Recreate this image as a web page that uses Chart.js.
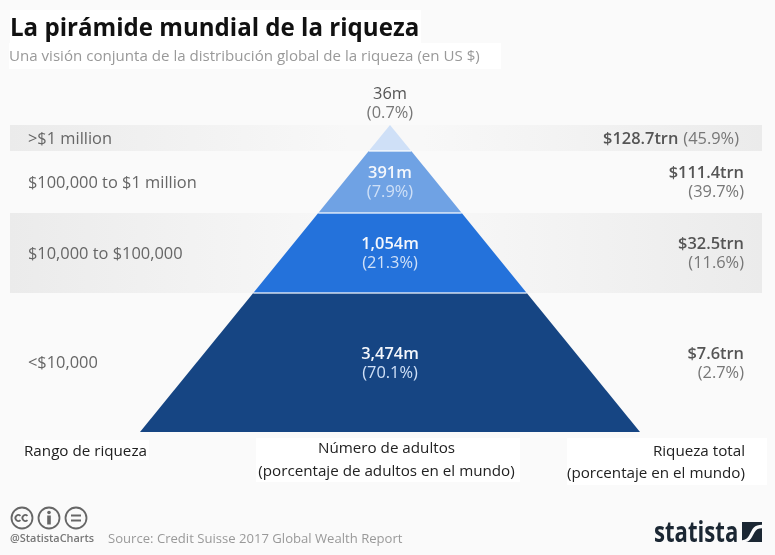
<!DOCTYPE html>
<html lang="es"><head><meta charset="utf-8">
<script src="https://cdn.jsdelivr.net/npm/chart.js@4"></script>
<style>
html,body{margin:0;padding:0;background:#fafafa;width:775px;height:555px;overflow:hidden;font-family:"Open Sans",sans-serif}
#c{position:absolute;left:0;top:0;width:775px;height:555px}
.t{position:absolute;white-space:nowrap;background:#fff}
.n{position:absolute;white-space:nowrap}
</style></head><body>
<canvas id="c" width="775" height="555"></canvas>
<div class="t" style="left:10px;top:10px;width:411px;height:33px"></div>
<div class="t" style="left:9px;top:43px;width:492px;height:26px"></div>
<div class="n" style="left:10px;top:9px;font-size:24.1px;font-weight:700;color:#111;line-height:36px">La pirámide mundial de la riqueza</div>
<div class="n" style="left:9px;top:44px;font-size:15.1px;color:#999;line-height:22px">Una visión conjunta de la distribución global de la riqueza (en US $)</div>

<div class="t" style="left:24px;top:440px;width:125px;height:20px"></div>
<div class="t" style="left:256px;top:438px;width:264px;height:44px"></div>
<div class="t" style="left:567px;top:438px;width:200px;height:47px"></div>
<div class="n" style="left:24px;top:440px;font-size:15.2px;color:#222;line-height:20px">Rango de riqueza</div>
<div class="n" style="left:254px;width:265px;text-align:center;top:436px;font-size:15.2px;color:#222;line-height:23px">Número de adultos<br>(porcentaje de adultos en el mundo)</div>
<div class="n" style="right:30px;text-align:right;top:439px;font-size:15.2px;color:#222;line-height:22px">Riqueza total<br>(porcentaje en el mundo)</div>

<svg style="position:absolute;left:10px;top:506px" width="80" height="25" viewBox="0 0 80 25" fill="none" stroke="#666" stroke-width="1.8">
<circle cx="12" cy="12" r="10.5"/><circle cx="39" cy="12" r="10.5"/><circle cx="66" cy="12" r="10.5"/>
<path d="M10.5 9.8a3 3 0 1 0 0 4.4M17.5 9.8a3 3 0 1 0 0 4.4"/>
<circle cx="39" cy="6.5" r="1.8" fill="#666" stroke="none"/><path d="M39 9.5v9" stroke-width="3.6"/>
<path d="M61 9.5h10M61 14.5h10" stroke-width="2"/></svg>
<div class="n" style="left:10px;top:531px;font-size:10.9px;font-weight:600;color:#777;line-height:14px">@StatistaCharts</div>
<div class="n" style="left:108px;top:528px;font-size:13.1px;color:#999;line-height:20px">Source: Credit Suisse 2017 Global Wealth Report</div>
<div class="n" style="left:654px;top:513px;font-size:28px;font-weight:700;color:#1b2733;line-height:36px;transform-origin:0 0;transform:scaleX(.79)">statista</div>
<svg style="position:absolute;left:742px;top:522px" width="20" height="20" viewBox="0 0 22 22"><rect width="22" height="22" fill="#1b2733"/><path d="M0 20C8 20 9 10 13 6 15 4 18 3 22 3V7C18 7 16 8 14 11 11 16 9 22 4 22H0Z" fill="#fafafa"/></svg>

<script>
// Tier order: top of pyramid first
const wealthRanges = [">$1 million", "$100,000 to $1 million", "$10,000 to $100,000", "<$10,000"];
const adults = ["36m", "391m", "1,054m", "3,474m"];
const adultShare = ["(0.7%)", "(7.9%)", "(21.3%)", "(70.1%)"];
const totalWealth = ["$128.7trn", "$111.4trn", "$32.5trn", "$7.6trn"];
const wealthShare = ["(45.9%)", "(39.7%)", "(11.6%)", "(2.7%)"];
// Pyramid height (apex = 100, base = 0) at which each tier starts and ends
const tierTop = [100, 91.5, 71.3, 45.3];
const tierBottom = [91.5, 71.3, 45.3, 0];
const tierColors = ["#cfe0f7", "#6fa2e4", "#2472db", "#164583"];
const bandTiers = [0, 2];
const xMin = -152, xMax = 148.8;

const halfWidth = h => 100 - h;
const tierData = i => {
  const t = tierTop[i], b = tierBottom[i];
  return [{x:-halfWidth(b),y:b},{x:-halfWidth(t),y:t},{x:halfWidth(t),y:t},{x:halfWidth(b),y:b}];
};
const bandFill = ctx => {
  const a = ctx.chart.chartArea;
  if (!a) return "#f2f2f2";
  const g = ctx.chart.ctx.createLinearGradient(a.left,0,a.right,0);
  g.addColorStop(0,"#ebebeb"); g.addColorStop(.45,"#f8f8f8"); g.addColorStop(.55,"#f8f8f8"); g.addColorStop(1,"#ebebeb");
  return g;
};
const datasets = [];
bandTiers.forEach(i => datasets.push({
  label:"band "+wealthRanges[i], order:10, showLine:true, pointRadius:0, borderWidth:0, clip:false,
  data:[{x:xMin,y:tierTop[i]},{x:xMax,y:tierTop[i]}], fill:{value:tierBottom[i]}, backgroundColor:bandFill
}));
tierColors.forEach((col,i) => datasets.push({
  label:wealthRanges[i], order:5, showLine:true, pointRadius:0, borderWidth:0, clip:false, tension:0,
  data:tierData(i), fill:{value:tierBottom[i]}, backgroundColor:col
}));
tierBottom.slice(0,3).forEach(h => datasets.push({
  label:"sep", order:1, showLine:true, pointRadius:0, borderWidth:2, borderColor:"rgba(255,255,255,.6)", clip:false,
  data:[{x:-halfWidth(h),y:h},{x:halfWidth(h),y:h}], fill:false
}));

const labels = {
  id:"tierLabels",
  afterDatasetsDraw(chart){
    const {ctx, scales:{x,y}} = chart;
    const F = (w,s) => `${w} ${s}px "Open Sans"`;
    const L = 19, S = 16.4;
    ctx.save();
    ctx.textBaseline = "middle";
    const put = (txt,px,py,align,font,col) => { ctx.textAlign=align; ctx.font=font; ctx.fillStyle=col; ctx.fillText(txt,px,py+1); };
    const cx = x.getPixelForValue(0);
    const leftX = x.left + 18, rightX = x.right - 18;
    wealthRanges.forEach((r,i) => {
      const my = (y.getPixelForValue(tierTop[i]) + y.getPixelForValue(tierBottom[i])) / 2;
      put(r,leftX,my,"left",F(400,S),"#666");
      if (i===0) {
        const ay = y.getPixelForValue(100);
        put(adults[i],cx,ay-32,"center",F(400,S),"#555");
        put(adultShare[i],cx,ay-13,"center",F(400,S),"#777");
      } else {
        put(adults[i],cx,my-L/2,"center",F(600,S),"#f4f7fc");
        put(adultShare[i],cx,my+L/2,"center",F(400,S),"#cfe0f7");
      }
      if (i===0) {
        ctx.font=F(400,S); const w=ctx.measureText(wealthShare[i]).width;
        put(wealthShare[i],rightX-5,my,"right",F(400,S),"#777");
        put(totalWealth[i],rightX-5-w-5,my,"right",F(600,S),"#555");
      } else {
        put(totalWealth[i],rightX,my-L/2,"right",F(600,S),"#555");
        put(wealthShare[i],rightX,my+L/2,"right",F(400,S),"#777");
      }
    });
    ctx.restore();
  }
};

new Chart(document.getElementById("c"),{
  type:"scatter",
  data:{datasets},
  plugins:[labels],
  options:{
    responsive:false, animation:false, devicePixelRatio:1,
    layout:{padding:{left:10,right:13,top:125,bottom:123}},
    plugins:{legend:{display:false},tooltip:{enabled:false},title:{display:false}},
    scales:{
      x:{type:"linear",min:xMin,max:xMax,display:false},
      y:{type:"linear",min:0,max:100,display:false}
    }
  }
});
</script>
</body></html>
